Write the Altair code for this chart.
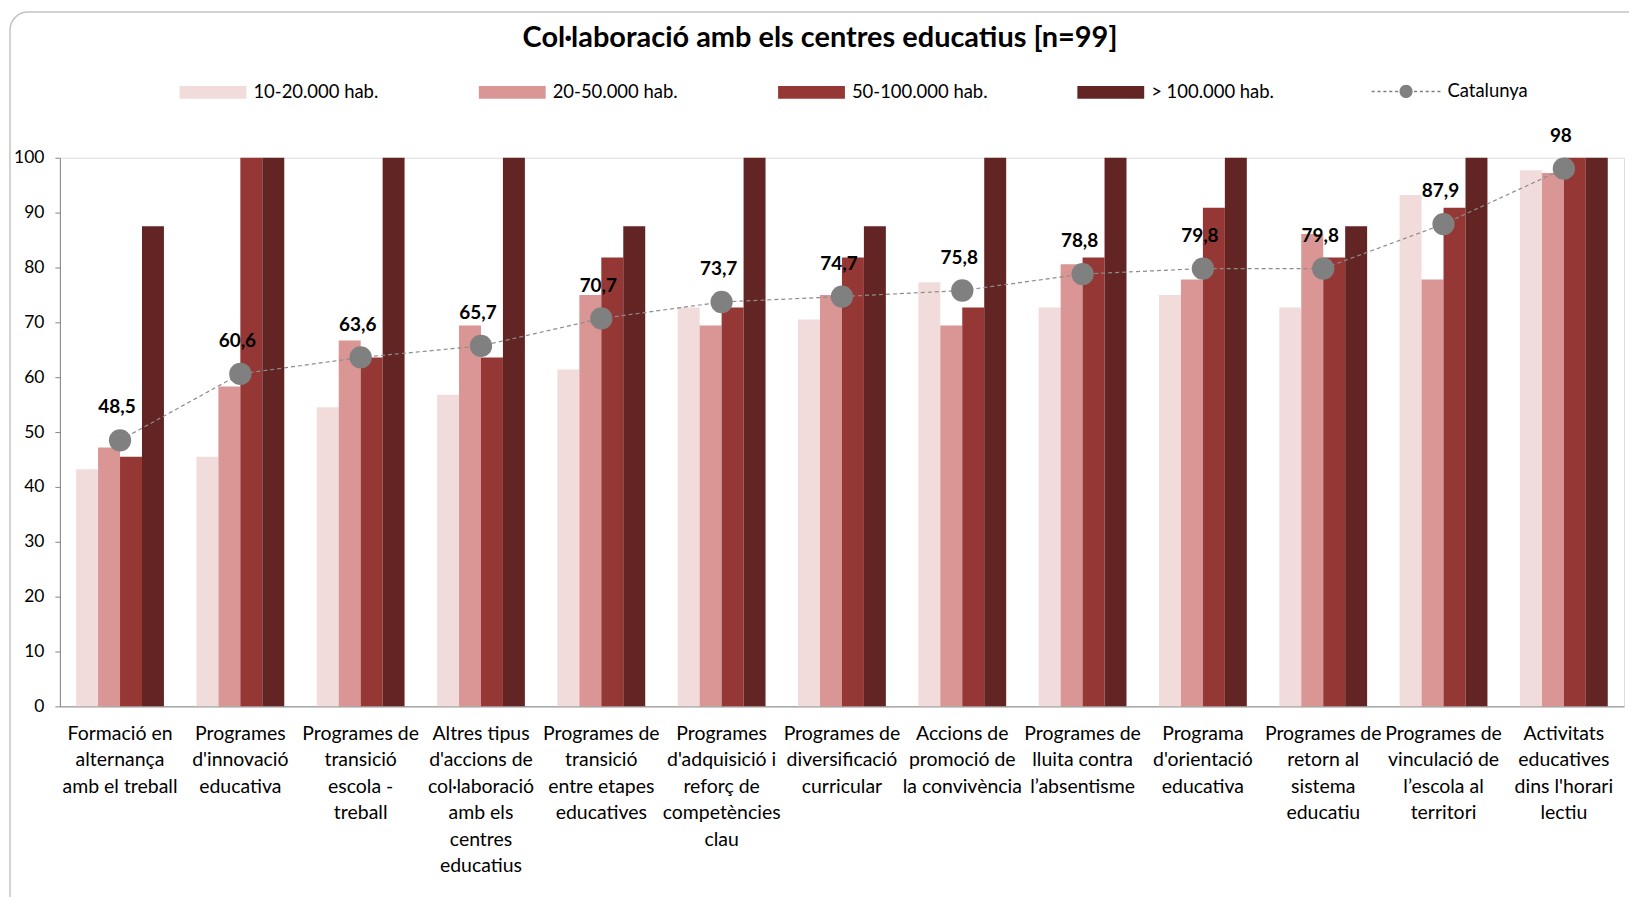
import altair as alt
import pandas as pd

TITLE = "Col·laboració amb els centres educatius [n=99]"

categories = [
    "Formació en\nalternança\namb el treball",
    "Programes\nd'innovació\neducativa",
    "Programes de\ntransició\nescola -\ntreball",
    "Altres tipus\nd'accions de\ncol·laboració\namb els\ncentres\neducatius",
    "Programes de\ntransició\nentre etapes\neducatives",
    "Programes\nd'adquisició i\nreforç de\ncompetències\nclau",
    "Programes de\ndiversificació\ncurricular",
    "Accions de\npromoció de\nla convivència",
    "Programes de\nlluita contra\nl’absentisme",
    "Programa\nd'orientació\neducativa",
    "Programes de\nretorn al\nsistema\neducatiu",
    "Programes de\nvinculació de\nl’escola al\nterritori",
    "Activitats\neducatives\ndins l'horari\nlectiu",
]

series = ["10-20.000 hab.", "20-50.000 hab.", "50-100.000 hab.", "> 100.000 hab."]
colors = ["#F2DCDB", "#D99694", "#953735", "#632523"]

v_10_20 = [43.2, 45.5, 54.5, 56.8, 61.4, 72.7, 70.5, 77.3, 72.7, 75.0, 72.7, 93.2, 97.7]
v_20_50 = [47.2, 58.3, 66.7, 69.4, 75.0, 69.4, 75.0, 69.4, 80.6, 77.8, 86.1, 77.8, 97.2]
v_50_100 = [45.5, 100, 63.6, 63.6, 81.8, 72.7, 81.8, 72.7, 81.8, 90.9, 81.8, 90.9, 100]
v_100 = [87.5, 100, 100, 100, 87.5, 100, 87.5, 100, 100, 100, 87.5, 100, 100]
catalunya = [48.5, 60.6, 63.6, 65.7, 70.7, 73.7, 74.7, 75.8, 78.8, 79.8, 79.8, 87.9, 98.0]

rows = []
for s, vals in zip(series, [v_10_20, v_20_50, v_50_100, v_100]):
    for c, v in zip(categories, vals):
        rows.append({"cat": c, "serie": s, "value": v})
bars_df = pd.DataFrame(rows)


def fmt(v):
    t = f"{v:.1f}".replace(".", ",")
    return t[:-2] if t.endswith(",0") else t


cat_df = pd.DataFrame({
    "cat": categories,
    "value": catalunya,
    "label": [fmt(v) for v in catalunya],
    "serie": ["Catalunya"] * len(categories),
})

FONT = "Lato"
W, H = 1568, 550

x_enc = alt.X(
    "cat:N", sort=categories,
    scale=alt.Scale(paddingInner=0.27, paddingOuter=0.135),
    axis=alt.Axis(
        title=None, labelAngle=0, labelExpr="split(datum.label, '\\n')",
        labelFont=FONT, labelFontSize=19.5, labelLineHeight=26.5, labelColor="#000000",
        labelPadding=18, ticks=False, domainColor="#868686", domainWidth=1,
        labelLimit=400, labelOverlap=False,
    ),
)
y_enc = alt.Y(
    "value:Q",
    scale=alt.Scale(domain=[0, 100], nice=False),
    axis=alt.Axis(
        title=None, values=list(range(0, 101, 10)), grid=False, tickSize=5,
        tickColor="#868686", domainColor="#868686", labelFont=FONT, labelFontSize=17.5,
        labelColor="#000000", labelPadding=11,
    ),
)

bar_path = "M-1,-0.19L1,-0.19L1,0.19L-1,0.19Z"


def rect(x0, x1, h):
    return f"M{x0},{-h}L{x1},{-h}L{x1},{h}L{x0},{h}Z"


dash_starts = [-1, -0.83, -0.66, -0.49, -0.32, 0.23, 0.40, 0.57, 0.74, 0.91]
cat_path = "".join(rect(s, round(s + 0.09, 2), 0.022) for s in dash_starts) + \
    "M-0.19,0A0.19,0.19 0 1,0 0.19,0A0.19,0.19 0 1,0 -0.19,0Z"

frame = alt.Chart(pd.DataFrame({"a": [0]})).mark_rect(
    fill="transparent", stroke="#c4c4c4", strokeWidth=1.5, cornerRadius=18
).encode(
    x=alt.value(-50), x2=alt.value(W + 200), y=alt.value(-146), y2=alt.value(H + 300)
)

title = alt.Chart(pd.DataFrame({"t": [TITLE]})).mark_text(
    font=FONT, fontSize=29, fontWeight="bold", color="#000000", baseline="middle", align="center"
).encode(x=alt.value(762), y=alt.value(-120), text="t:N")

bars = alt.Chart(bars_df).mark_bar().encode(
    x=x_enc,
    xOffset=alt.XOffset("serie:N", sort=series),
    y=y_enc,
    color=alt.Color(
        "serie:N", sort=series,
        scale=alt.Scale(domain=series, range=colors),
        legend=alt.Legend(
            title=None, orient="none", legendX=120, legendY=-99, direction="horizontal",
            symbolType=bar_path, symbolSize=4489, symbolStrokeWidth=0, labelOffset=7,
            columnPadding=89, gridAlign="all", labelFont=FONT, labelFontSize=18.5,
            labelColor="#000000", padding=0,
        ),
    ),
)

line = alt.Chart(cat_df).mark_line(
    color="#8c8c8c", strokeDash=[4, 3], strokeWidth=1.2
).encode(x=alt.X("cat:N", sort=categories), y="value:Q")

points = alt.Chart(cat_df).mark_point(filled=True, size=500, opacity=1).encode(
    x=alt.X("cat:N", sort=categories),
    y="value:Q",
    fill=alt.Fill(
        "serie:N",
        scale=alt.Scale(domain=["Catalunya"], range=["#808080"]),
        legend=alt.Legend(
            title=None, orient="none", legendX=1315, legendY=-101, direction="horizontal",
            symbolType=cat_path, symbolSize=4761, symbolStrokeWidth=0, labelOffset=7,
            labelFont=FONT, labelFontSize=18.5, labelColor="#000000", padding=0,
        ),
    ),
)

labels = alt.Chart(cat_df).mark_text(
    font=FONT, fontSize=19, fontWeight="bold", color="#000000", dy=-33, dx=-3
).encode(x=alt.X("cat:N", sort=categories), y="value:Q", text="label:N")

chart = alt.layer(frame, title, bars, line, points, labels).properties(
    width=W,
    height=H,
    autosize=alt.AutoSizeParams(type="none"),
    padding={"left": 52, "top": 149, "right": 5, "bottom": 190},
).configure_view(stroke=None).configure(background="white")

chart.save("out.html", embed_options={"renderer": "svg", "actions": False})
